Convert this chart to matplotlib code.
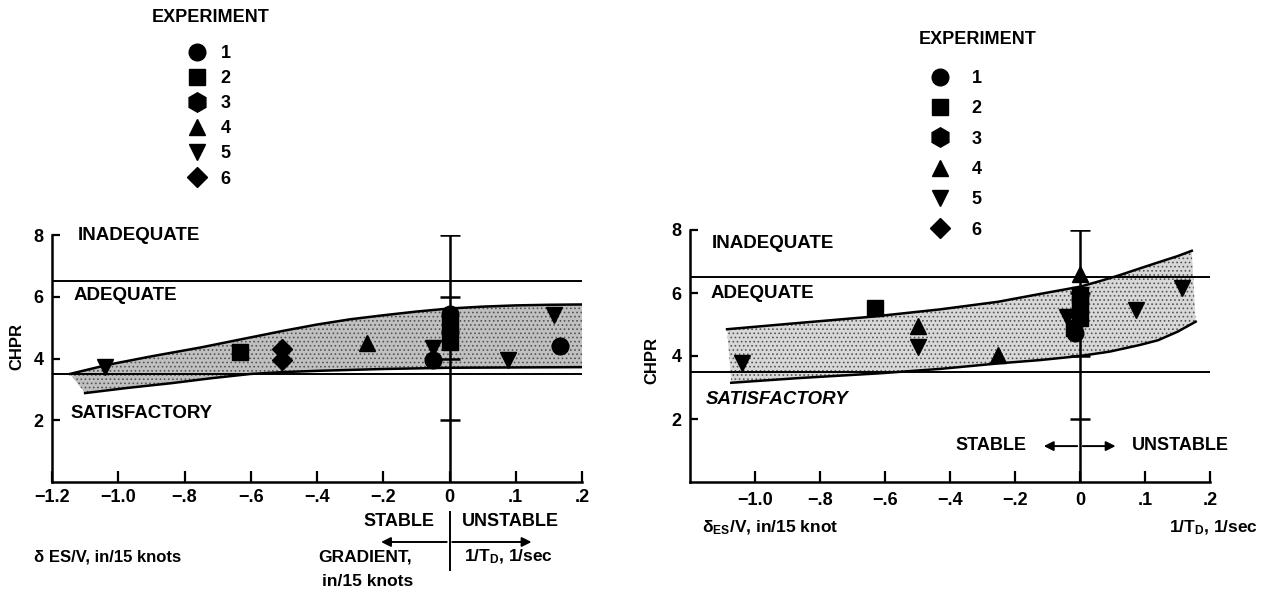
import numpy as np
import matplotlib
matplotlib.use('Agg')
import matplotlib.pyplot as plt
from matplotlib.lines import Line2D

plt.rcParams['font.family'] = ['Liberation Sans', 'DejaVu Sans']
plt.rcParams['font.weight'] = 'bold'
plt.rcParams['mathtext.fontset'] = 'custom'
plt.rcParams['mathtext.rm'] = 'Liberation Sans:bold'
plt.rcParams['mathtext.bf'] = 'Liberation Sans:bold'
plt.rcParams['mathtext.it'] = 'Liberation Sans:bold'
plt.rcParams['hatch.linewidth'] = 0.7

# experiment symbols
experiments = [1, 2, 3, 4, 5, 6]
exp_markers = {1: 'o', 2: 's', 3: 'h', 4: '^', 5: 'v', 6: 'D'}
exp_sizes = {1: 12, 2: 11, 3: 14, 4: 12, 5: 12, 6: 10}

# rating boundaries (CHPR)
rating_bounds = [3.5, 6.5]
yticks = [2, 4, 6, 8]

# left panel points
left_exp = [5, 2, 6, 6, 4, 1, 2, 1, 2, 5, 1, 5, 1, 5]
left_x = [-1.04, -0.632, -0.505, -0.505, -0.248, 0.0, 0.0, 0.0, 0.0, -0.05, -0.05, 0.158, 0.167, 0.089]
left_y = [3.72, 4.22, 4.3, 3.95, 4.5, 5.45, 5.15, 4.85, 4.55, 4.35, 3.95, 5.4, 4.4, 3.95]

# left panel band
left_upper_x = [-1.146, -1.03, -0.9, -0.75, -0.63, -0.5, -0.4, -0.3, -0.2, -0.1, 0.0, 0.05, 0.1, 0.15, 0.2]
left_upper_y = [3.5, 3.8, 4.07, 4.36, 4.62, 4.9, 5.1, 5.27, 5.4, 5.52, 5.62, 5.68, 5.72, 5.74, 5.75]
left_lower_x = [-1.1, -0.97, -0.84, -0.72, -0.6, -0.5, -0.4, -0.2, 0.0, 0.2]
left_lower_y = [2.88, 3.05, 3.2, 3.36, 3.5, 3.56, 3.6, 3.66, 3.7, 3.72]

# right panel points
right_exp = [5, 2, 4, 5, 4, 4, 2, 2, 5, 2, 2, 1, 5, 5]
right_x = [-1.04, -0.632, -0.5, -0.5, -0.253, 0.0, 0.0, 0.0, -0.04, 0.0, -0.02, -0.015, 0.086, 0.157]
right_y = [3.78, 5.52, 4.95, 4.29, 4.03, 6.6, 5.95, 5.65, 5.25, 5.2, 4.9, 4.72, 5.46, 6.16]

# right panel band
right_upper_x = [-1.086, -0.864, -0.638, -0.431, -0.253, -0.123, 0.0, 0.031, 0.0615, 0.092, 0.123, 0.15, 0.172]
right_upper_y = [4.85, 5.05, 5.25, 5.48, 5.72, 5.97, 6.2, 6.38, 6.57, 6.78, 6.99, 7.17, 7.34]
right_lower_x = [-1.073, -0.864, -0.617, -0.431, -0.246, -0.123, 0.0, 0.046, 0.092, 0.12, 0.15, 0.178]
right_lower_y = [3.15, 3.3, 3.45, 3.59, 3.77, 3.87, 4.0, 4.14, 4.35, 4.5, 4.77, 5.09]

left_xticks = [-1.2, -1.0, -0.8, -0.6, -0.4, -0.2, 0.0, 0.1, 0.2]
left_xticklabels = ['\u22121.2', '\u22121.0', '\u2212.8', '\u2212.6', '\u2212.4', '\u2212.2', '0', '.1', '.2']
right_xticks = [-1.0, -0.8, -0.6, -0.4, -0.2, 0.0, 0.1, 0.2]
right_xticklabels = ['\u22121.0', '\u2212.8', '\u2212.6', '\u2212.4', '\u2212.2', '0', '.1', '.2']


# gradient side (x<0) and 1/T_D side (x>0) use different scales
def fwd(x):
    x = np.asarray(x, dtype=float)
    return np.where(x < 0, x, 2 * x)


def inv(x):
    x = np.asarray(x, dtype=float)
    return np.where(x < 0, x, x / 2)


W, H = 1268, 594


def px(x, y):
    return x / W, 1 - y / H


fig = plt.figure(figsize=(12.68, 5.94), dpi=100)


def panel(rect, ux, uy, lx, ly, exps, xs, ys, xt, xtl, face, lab_pad):
    ax = fig.add_axes(rect)
    ax.set_xscale('function', functions=(fwd, inv))
    ax.set_xlim(-1.2, 0.2)
    ax.set_ylim(0, 8)
    for s in ['top', 'right']:
        ax.spines[s].set_visible(False)
    for s in ['left', 'bottom']:
        ax.spines[s].set_linewidth(1.8)
    ax.fill(np.concatenate([ux, lx[::-1]]), np.concatenate([uy, ly[::-1]]),
            facecolor=face, edgecolor='#555555', hatch='....', lw=0, zorder=1)
    ax.plot(ux, uy, color='k', lw=1.8, zorder=2)
    ax.plot(lx, ly, color='k', lw=1.8, zorder=2)
    for b in rating_bounds:
        ax.axhline(b, color='k', lw=1.4, zorder=2)
    ax.axvline(0, color='k', lw=1.8, zorder=2)
    ax.plot([0] * len(yticks), yticks, ls='none', marker='_', ms=14, mew=1.8, color='k', zorder=2)
    for e, x, y in zip(exps, xs, ys):
        ax.plot(x, y, ls='none', marker=exp_markers[e], ms=exp_sizes[e], color='k', zorder=3)
    ax.set_xticks(xt)
    ax.set_xticklabels(xtl)
    ax.set_yticks(yticks)
    ax.minorticks_off()
    ax.tick_params(axis='x', direction='in', length=8, width=1.6, labelsize=13, pad=lab_pad)
    ax.tick_params(axis='y', direction='in', length=6, width=1.6, labelsize=13, pad=6)
    return ax


axL = panel([52 / W, 112 / H, 530 / W, 247 / H],
            np.array(left_upper_x), np.array(left_upper_y),
            np.array(left_lower_x), np.array(left_lower_y),
            left_exp, left_x, left_y, left_xticks, left_xticklabels, '#c0c0c0', 5)
axR = panel([690 / W, 112 / H, 520 / W, 252 / H],
            np.array(right_upper_x), np.array(right_upper_y),
            np.array(right_lower_x), np.array(right_lower_y),
            right_exp, right_x, right_y, right_xticks, right_xticklabels, '#d8d8d8', 7)

# legends
handles = [Line2D([], [], marker=exp_markers[k], ms=exp_sizes[k], color='k', ls='none') for k in experiments]
labels = [str(k) for k in experiments]
fig.text(*px(211, 18), 'EXPERIMENT', ha='center', va='center', fontsize=13)
fig.legend(handles, labels, loc='upper left', bbox_to_anchor=px(188, 45), frameon=False,
           borderpad=0, borderaxespad=0, handlelength=1.0, handletextpad=0.8,
           labelspacing=0.45, fontsize=13)
fig.text(*px(978, 40), 'EXPERIMENT', ha='center', va='center', fontsize=13)
fig.legend(handles, labels, loc='upper left', bbox_to_anchor=px(931, 70), frameon=False,
           borderpad=0, borderaxespad=0, handlelength=1.0, handletextpad=1.25,
           labelspacing=0.74, fontsize=13)

# region labels
for (x, y, t, st) in [(78, 236, 'INADEQUATE', 'normal'), (74, 295, 'ADEQUATE', 'normal'),
                      (70, 413, 'SATISFACTORY', 'normal'),
                      (712, 243, 'INADEQUATE', 'normal'), (711, 293, 'ADEQUATE', 'normal'),
                      (706, 400, 'SATISFACTORY', 'italic')]:
    fig.text(*px(x, y), t, ha='left', va='center', fontsize=13.5, style=st)

fig.text(*px(17, 347), 'CHPR', rotation=90, ha='center', va='center', fontsize=12)
fig.text(*px(652, 360), 'CHPR', rotation=90, ha='center', va='center', fontsize=12)

# left panel axis captions
fig.text(*px(434, 522), 'STABLE', ha='right', va='center', fontsize=13)
fig.text(*px(462, 522), 'UNSTABLE', ha='left', va='center', fontsize=13)
fig.text(*px(34, 557), '\u03b4 ES/V, in/15 knots', ha='left', va='center', fontsize=12)
fig.text(*px(318, 557), 'GRADIENT,', ha='left', va='center', fontsize=12.5)
fig.text(*px(322, 582), 'in/15 knots', ha='left', va='center', fontsize=12.5)
fig.text(*px(464, 557), r'1/T$_{\mathbf{D}}$, 1/sec', ha='left', va='center', fontsize=12.5)
axL.axvline(0, ymin=-(570 - 482) / 247, ymax=-(512 - 482) / 247, color='k', lw=1.4, clip_on=False)
yarr = -(542 - 482) / 247
for xe in [-0.215, 0.128]:
    axL.annotate('', xy=(xe, yarr), xytext=(0, yarr), xycoords=axL.get_xaxis_transform(),
                 annotation_clip=False,
                 arrowprops=dict(arrowstyle='-|>', color='k', lw=1.4, mutation_scale=14))

# right panel captions
fig.text(*px(1026, 446), 'STABLE', ha='right', va='center', fontsize=13)
fig.text(*px(1132, 446), 'UNSTABLE', ha='left', va='center', fontsize=13)
for xe in [-0.12, 0.059]:
    axR.annotate('', xy=(xe, 1.14), xytext=(0, 1.14),
                 arrowprops=dict(arrowstyle='-|>', color='k', lw=1.4, mutation_scale=14))
fig.text(*px(702, 528), '\u03b4$_{\\mathbf{ES}}$/V, in/15 knot', ha='left', va='center', fontsize=12.5)
fig.text(*px(1258, 528), r'1/T$_{\mathbf{D}}$, 1/sec', ha='right', va='center', fontsize=12.5)

fig.savefig('out.png', dpi=100)
